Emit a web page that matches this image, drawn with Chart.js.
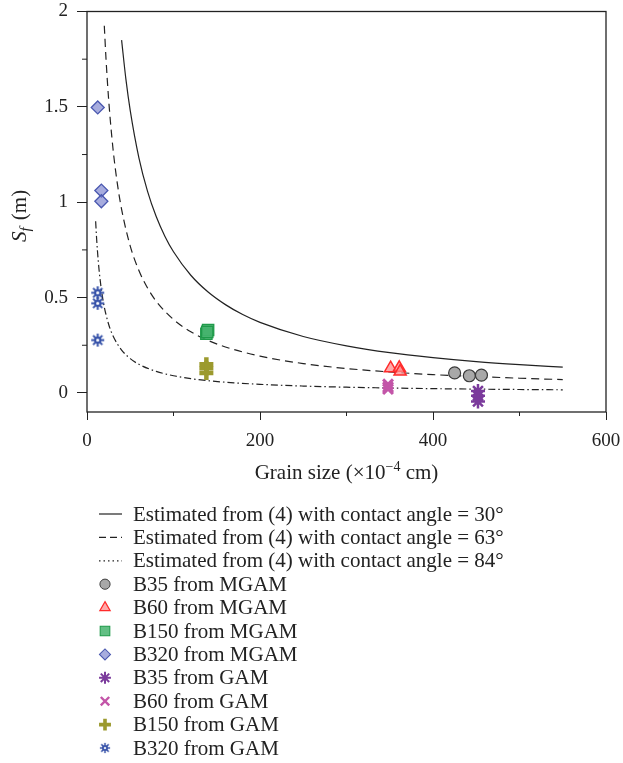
<!DOCTYPE html>
<html>
<head>
<meta charset="utf-8">
<title>Sf vs grain size</title>
<script src="https://cdn.jsdelivr.net/npm/chart.js@4/dist/chart.umd.min.js"></script>
<style>
  html, body { margin: 0; padding: 0; background: #fff; overflow: hidden; }
  #wrap { width: 623px; height: 763px; position: relative; }
</style>
</head>
<body>
<div id="wrap"><canvas id="chart"></canvas></div>
<script>
// Curves estimated from (4)
const curve30X = [40, 45, 50, 60, 70, 80, 90, 100, 120, 140, 160, 180, 200, 250, 300, 350, 400, 450, 500, 550];
const curve30Y = [1.85, 1.644, 1.48, 1.233, 1.057, 0.925, 0.822, 0.74, 0.617, 0.529, 0.463, 0.411, 0.37, 0.296, 0.247, 0.211, 0.185, 0.164, 0.148, 0.135];

const curve63X = [20, 22, 25, 30, 35, 40, 50, 60, 70, 80, 100, 120, 140, 160, 200, 250, 300, 350, 400, 450, 500, 550];
const curve63Y = [1.925, 1.75, 1.54, 1.283, 1.1, 0.963, 0.77, 0.642, 0.55, 0.481, 0.385, 0.321, 0.275, 0.241, 0.193, 0.154, 0.128, 0.11, 0.096, 0.086, 0.077, 0.07];

const curve84X = [10, 11, 12, 14, 16, 18, 20, 25, 30, 40, 50, 60, 80, 100, 120, 140, 170, 200, 250, 300, 400, 500, 550];
const curve84Y = [0.9, 0.818, 0.75, 0.643, 0.563, 0.5, 0.45, 0.36, 0.3, 0.225, 0.18, 0.15, 0.113, 0.09, 0.075, 0.064, 0.053, 0.045, 0.036, 0.03, 0.0225, 0.018, 0.0164];

// Measured points
const b35MgamX = [425, 442, 456];
const b35MgamY = [0.105, 0.09, 0.093];
const b60MgamX = [351, 361, 362];
const b60MgamY = [0.13, 0.132, 0.112];
const b150MgamX = [138, 140, 139];
const b150MgamY = [0.31, 0.33, 0.32];
const b320MgamX = [12.4, 16.6, 16.6];
const b320MgamY = [1.497, 1.061, 1.005];

const b35GamX = [452, 452, 452];
const b35GamY = [0.01, -0.015, -0.045];
const b60GamX = [348, 348, 348];
const b60GamY = [0.045, 0.03, 0.02];
const b150GamX = [138, 138, 138];
const b150GamY = [0.15, 0.13, 0.105];
const b320GamX = [12.4, 12.4, 12.4];
const b320GamY = [0.525, 0.47, 0.277];

const xTicks = [0, 200, 400, 600];
const xMinor = [100, 300, 500];
const yTicks = [0, 0.5, 1, 1.5, 2];
const yMinor = [0.25, 0.75, 1.25, 1.75];

const legendLabels = [
  "Estimated from (4) with contact angle = 30°",
  "Estimated from (4) with contact angle = 63°",
  "Estimated from (4) with contact angle = 84°",
  "B35 from MGAM",
  "B60 from MGAM",
  "B150 from MGAM",
  "B320 from MGAM",
  "B35 from GAM",
  "B60 from GAM",
  "B150 from GAM",
  "B320 from GAM"
];
// the short line samples in the legend use tighter dashes
const legendDash = [[], [7, 4], [1.5, 3]];

const SERIF = '"Liberation Serif", "DejaVu Serif", serif';
const INK = "#222";

// asterisk with an open ring in the middle
function snowflake(color, size) {
  const c = document.createElement("canvas");
  c.width = size;
  c.height = size;
  const g = c.getContext("2d");
  const m = size / 2;
  const r = size / 2 - 1;
  g.strokeStyle = color;
  g.lineWidth = 2;
  g.beginPath();
  for (let k = 0; k < 4; k++) {
    const ang = k * Math.PI / 4;
    g.moveTo(m - r * Math.cos(ang), m - r * Math.sin(ang));
    g.lineTo(m + r * Math.cos(ang), m + r * Math.sin(ang));
  }
  g.stroke();
  g.fillStyle = "#fff";
  g.beginPath();
  g.arc(m, m, r * 0.4, 0, Math.PI * 2);
  g.fill();
  g.stroke();
  return c;
}

function pts(xs, ys) {
  return xs.map((x, i) => ({ x: x, y: ys[i] }));
}

function lineSet(label, xs, ys, dash) {
  return {
    label: label,
    data: pts(xs, ys),
    showLine: true,
    borderColor: INK,
    borderWidth: 1.2,
    borderDash: dash,
    pointRadius: 0,
    cubicInterpolationMode: "monotone",
    order: 1
  };
}

function markSet(label, xs, ys, style, fill, stroke, radius, bw) {
  return {
    label: label,
    data: pts(xs, ys),
    showLine: false,
    pointStyle: style,
    pointRadius: radius,
    pointBackgroundColor: fill,
    pointBorderColor: stroke,
    pointBorderWidth: bw,
    order: 0
  };
}

const datasets = [
  lineSet(legendLabels[0], curve30X, curve30Y, []),
  lineSet(legendLabels[1], curve63X, curve63Y, [8, 5]),
  lineSet(legendLabels[2], curve84X, curve84Y, [7, 3, 1.5, 3]),
  markSet(legendLabels[3], b35MgamX, b35MgamY, "circle", "#a8a8a8", "#3a3a3a", 6, 1.2),
  markSet(legendLabels[4], b60MgamX, b60MgamY, "triangle", "rgba(255,140,140,0.75)", "#ff2b2b", 7, 1.5),
  markSet(legendLabels[5], b150MgamX, b150MgamY, "rect", "rgba(70,180,110,0.85)", "#1f9a4a", 8, 1.3),
  markSet(legendLabels[6], b320MgamX, b320MgamY, "rectRot", "rgba(120,128,205,0.65)", "#4a58b0", 6.5, 1.3),
  markSet(legendLabels[7], b35GamX, b35GamY, "star", "#7b3b9c", "#7b3b9c", 7, 2.5),
  markSet(legendLabels[8], b60GamX, b60GamY, "crossRot", "#c355a8", "#c355a8", 7, 3),
  markSet(legendLabels[9], b150GamX, b150GamY, "cross", "#9c9a2e", "#9c9a2e", 7, 4.5),
  markSet(legendLabels[10], b320GamX, b320GamY, snowflake("#3450a8", 15), "#3450a8", "#3450a8", 7, 2)
];

// frame, minor ticks, axis titles and the legend list under the plot
const decor = {
  id: "decor",
  afterDraw(chart) {
    const ctx = chart.ctx;
    const a = chart.chartArea;
    const xs = chart.scales.x;
    const ys = chart.scales.y;
    ctx.save();

    ctx.strokeStyle = INK;
    ctx.lineWidth = 1.3;
    ctx.strokeRect(a.left, a.top, a.right - a.left, a.bottom - a.top);

    ctx.lineWidth = 1;
    ctx.beginPath();
    xMinor.forEach(v => {
      const px = xs.getPixelForValue(v);
      ctx.moveTo(px, a.bottom);
      ctx.lineTo(px, a.bottom + 4);
    });
    yMinor.forEach(v => {
      const py = ys.getPixelForValue(v);
      ctx.moveTo(a.left, py);
      ctx.lineTo(a.left - 5, py);
    });
    ctx.stroke();

    ctx.fillStyle = INK;

    // y title: S_f (m)
    ctx.save();
    ctx.translate(19, 216);
    ctx.rotate(-Math.PI / 2);
    ctx.textBaseline = "alphabetic";
    ctx.font = "italic 21px " + SERIF;
    const wS = ctx.measureText("S").width;
    ctx.font = "italic 15px " + SERIF;
    const wF = ctx.measureText("f").width;
    ctx.font = "21px " + SERIF;
    const wM = ctx.measureText(" (m)").width;
    const x0 = -(wS + wF + 2 + wM) / 2;
    ctx.font = "italic 21px " + SERIF;
    ctx.fillText("S", x0, 7);
    ctx.font = "italic 15px " + SERIF;
    ctx.fillText("f", x0 + wS, 11);
    ctx.font = "21px " + SERIF;
    ctx.fillText(" (m)", x0 + wS + wF + 2, 7);
    ctx.restore();

    // x title: Grain size (×10^-4 cm)
    const cx = (a.left + a.right) / 2;
    const ty = 479;
    ctx.textBaseline = "alphabetic";
    ctx.font = "21px " + SERIF;
    const p1 = "Grain size (×10";
    const p3 = " cm)";
    const w1 = ctx.measureText(p1).width;
    const w3 = ctx.measureText(p3).width;
    ctx.font = "14px " + SERIF;
    const p2 = "−4";
    const w2 = ctx.measureText(p2).width;
    const tx = cx - (w1 + w2 + w3) / 2;
    ctx.font = "21px " + SERIF;
    ctx.fillText(p1, tx, ty);
    ctx.font = "14px " + SERIF;
    ctx.fillText(p2, tx + w1, ty - 8);
    ctx.font = "21px " + SERIF;
    ctx.fillText(p3, tx + w1 + w2, ty);

    // legend rows
    const rowY0 = 514;
    const rowGap = 23.4;
    chart.data.datasets.forEach((ds, i) => {
      const y = rowY0 + i * rowGap;
      if (ds.showLine) {
        ctx.strokeStyle = ds.borderColor;
        ctx.lineWidth = ds.borderWidth;
        ctx.setLineDash(legendDash[i]);
        ctx.beginPath();
        ctx.moveTo(99, y);
        ctx.lineTo(122, y);
        ctx.stroke();
        ctx.setLineDash([]);
      } else if (typeof ds.pointStyle !== "string") {
        ctx.drawImage(ds.pointStyle, 105 - 6, y - 6, 12, 12);
      } else if (Chart.helpers && Chart.helpers.drawPoint) {
        ctx.fillStyle = ds.pointBackgroundColor;
        ctx.strokeStyle = ds.pointBorderColor;
        ctx.lineWidth = ds.pointBorderWidth * 0.8;
        Chart.helpers.drawPoint(ctx, {
          pointStyle: ds.pointStyle,
          radius: ds.pointRadius * 0.85,
          rotation: 0,
          borderWidth: ds.pointBorderWidth * 0.8
        }, 105, y);
      }
      ctx.fillStyle = INK;
      ctx.font = "21px " + SERIF;
      ctx.textBaseline = "middle";
      ctx.fillText(ds.label, 133, y + 1);
    });

    ctx.restore();
  }
};

// keep tick label overhang out of the layout so the plot box sits where padding says
function noOverhang(s) {
  s.paddingTop = 0;
  s.paddingBottom = 0;
  s.paddingLeft = 0;
  s.paddingRight = 0;
}

new Chart(document.getElementById("chart"), {
  type: "scatter",
  data: { datasets: datasets },
  plugins: [decor],
  options: {
    responsive: true,
    maintainAspectRatio: false,
    animation: false,
    layout: { padding: { left: 0, right: 17, top: 11, bottom: 291 } },
    plugins: {
      legend: { display: false },
      tooltip: { enabled: false }
    },
    scales: {
      x: {
        type: "linear",
        min: 0,
        max: 600,
        afterBuildTicks: s => { s.ticks = xTicks.map(v => ({ value: v })); },
        afterFit: s => { s.height = 60; noOverhang(s); },
        border: { display: false },
        grid: { drawOnChartArea: false, drawTicks: true, tickLength: 8, color: INK, tickWidth: 1 },
        ticks: { color: INK, padding: 10, font: { family: SERIF, size: 19 }, callback: v => String(v) }
      },
      y: {
        type: "linear",
        min: -0.1,
        max: 2,
        afterBuildTicks: s => { s.ticks = yTicks.map(v => ({ value: v })); },
        afterFit: s => { s.width = 87; noOverhang(s); },
        border: { display: false },
        grid: { drawOnChartArea: false, drawTicks: true, tickLength: 10, color: INK, tickWidth: 1 },
        ticks: { color: INK, padding: 9, font: { family: SERIF, size: 19 }, callback: v => String(v) }
      }
    }
  }
});
</script>
</body>
</html>
